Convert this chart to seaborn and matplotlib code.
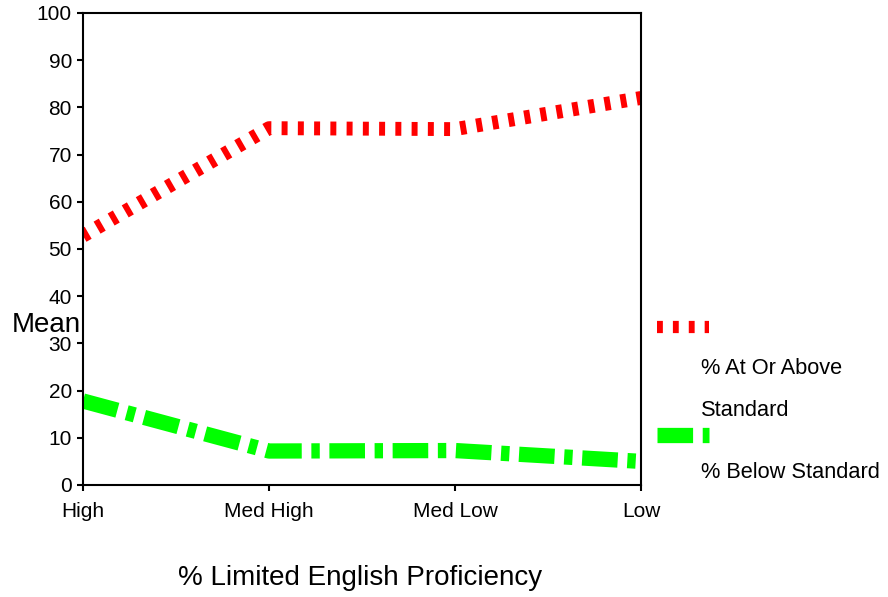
import matplotlib
matplotlib.use("Agg")
import matplotlib.pyplot as plt
from matplotlib.lines import Line2D
import seaborn as sns
import pandas as pd

# ---- data ----
categories = ["High", "Med High", "Med Low", "Low"]
at_or_above = [52.8, 75.6, 75.4, 82.0]
below = [17.8, 7.2, 7.3, 5.0]
series_names = ["% At Or Above\nStandard", "% Below Standard"]
y_ticks = [0, 10, 20, 30, 40, 50, 60, 70, 80, 90, 100]

sns.set_theme(style="ticks")
plt.rcParams['font.family'] = ['Liberation Sans', 'DejaVu Sans']
plt.rcParams['text.color'] = 'black'
plt.rcParams['axes.labelcolor'] = 'black'
plt.rcParams['xtick.color'] = 'black'
plt.rcParams['ytick.color'] = 'black'

df_red = pd.DataFrame({"LEP": categories, "Mean": at_or_above})
df_green = pd.DataFrame({"LEP": categories, "Mean": below})

W, H = 888, 597
fig = plt.figure(figsize=(W / 100, H / 100), dpi=100)
ax = fig.add_axes([83 / W, 1 - 485 / H, (641 - 83) / W, (485 - 13) / H])

red_dash = (0, (0.43, 0.74))
green_dash = (0, (2.33, 0.63, 0.55, 0.63))

sns.lineplot(data=df_red, x="LEP", y="Mean", ax=ax, color="#FF0000",
             linewidth=10, linestyle=red_dash, sort=False, legend=False)
sns.lineplot(data=df_green, x="LEP", y="Mean", ax=ax, color="#00FF00",
             linewidth=11, linestyle=green_dash, sort=False, legend=False)
for ln in ax.lines:
    ln.set_dash_capstyle("butt")
    ln.set_solid_capstyle("butt")

ax.set_xlim(0, 3)
ax.set_ylim(0, 100)
ax.set_yticks(y_ticks)
ax.set_yticklabels([str(v) for v in y_ticks])
ax.set_xticks(range(len(categories)))
ax.set_xticklabels(categories)

for s in ax.spines.values():
    s.set_visible(True)
    s.set_color("black")
    s.set_linewidth(1.5)

ax.tick_params(axis="y", direction="out", length=4.5, width=1.5, pad=3.5,
               labelsize=15, colors="black", labelcolor="black", right=False)
ax.tick_params(axis="x", direction="out", length=4, width=1.5, pad=8,
               labelsize=15, colors="black", labelcolor="black", top=False)
ax.grid(False)

ax.set_ylabel("Mean", rotation=0, fontsize=20, ha="center", va="center", color="black")
ax.yaxis.set_label_coords((46 - 83) / 558, (485 - 325) / 472)
ax.set_xlabel("% Limited English Proficiency", fontsize=20, va="center", color="black")
ax.xaxis.set_label_coords((360 - 83) / 558, (485 - 578) / 472)

# ---- legend (manual layout, outside axes) ----
fig.add_artist(Line2D([657 / W, 709 / W], [1 - 327 / H] * 2, transform=fig.transFigure,
                      color="#FF0000", linewidth=8.8, linestyle=(0, (0.48, 0.82)),
                      dash_capstyle="butt"))
fig.add_artist(Line2D([657 / W, 709 / W], [1 - 435 / H] * 2, transform=fig.transFigure,
                      color="#00FF00", linewidth=11, linestyle=green_dash,
                      dash_capstyle="butt"))
name1, name2 = series_names
lines1 = name1.split("\n")
fig.text(701 / W, 1 - 368 / H, lines1[0], fontsize=15.7, ha="left", va="center", color="black")
fig.text(701 / W, 1 - 411 / H, lines1[1], fontsize=15.7, ha="left", va="center", color="black")
fig.text(701 / W, 1 - 473 / H, name2, fontsize=15.7, ha="left", va="center", color="black")

fig.savefig("out.png", dpi=100, facecolor="white")
